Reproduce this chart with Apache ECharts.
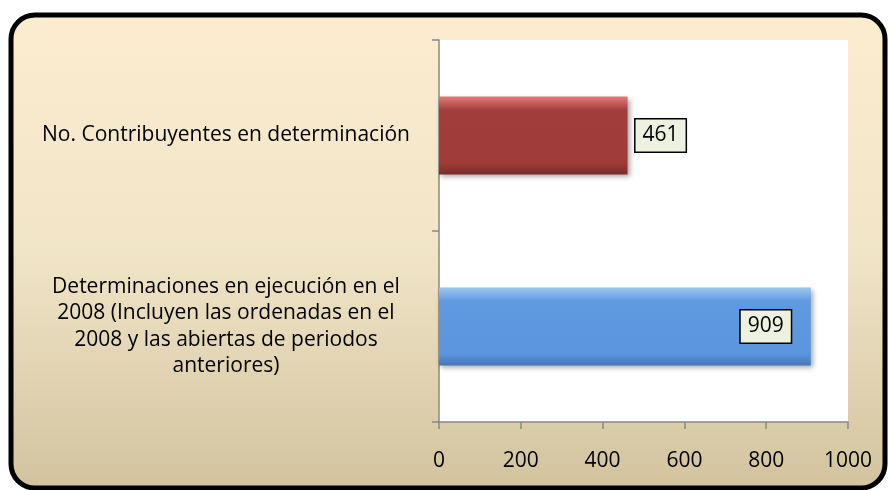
<!DOCTYPE html>
<html>
<head>
<meta charset="utf-8">
<script src="https://cdn.jsdelivr.net/npm/echarts@6/dist/echarts.min.js"></script>
<style>
    html, body { margin: 0; padding: 0; background: #fff; }
    #chart { width: 889px; height: 490px; }
</style>
</head>
<body>
<div id="chart"></div>
<script>
    // categories, bottom to top (as in the picture)
    const categories = [
        'Determinaciones en ejecución en el\n2008 (Incluyen las ordenadas en el\n2008 y las abiertas de periodos\nanteriores)',
        'No. Contribuyentes en determinación'
    ];
    const values = [909, 461];
    const xTicks = [0, 200, 400, 600, 800, 1000];

    const fontFam = '"Open Sans", sans-serif';

    const barColors = [
        new echarts.graphic.LinearGradient(0, 0, 0, 1, [
            { offset: 0, color: '#9cc6f2' },
            { offset: 0.18, color: '#5f9ae0' },
            { offset: 0.85, color: '#5b96de' },
            { offset: 1, color: '#4776b4' }
        ]),
        new echarts.graphic.LinearGradient(0, 0, 0, 1, [
            { offset: 0, color: '#e27a78' },
            { offset: 0.18, color: '#a23e3c' },
            { offset: 0.85, color: '#9f3c3a' },
            { offset: 1, color: '#7a2c2a' }
        ])
    ];

    const chart = echarts.init(document.getElementById('chart'));
    chart.setOption({
        animation: false,
        graphic: [{
            type: 'rect',
            z: -10,
            shape: { x: 11, y: 15, width: 874, height: 473, r: 24 },
            style: {
                fill: new echarts.graphic.LinearGradient(0, 0, 0, 1, [
                    { offset: 0, color: '#fcecd0' },
                    { offset: 0.5, color: '#f1e5c8' },
                    { offset: 1, color: '#d2c39e' }
                ]),
                stroke: '#000',
                lineWidth: 5
            }
        }],
        grid: {
            left: 439,
            right: 41,
            top: 40,
            bottom: 68,
            show: true,
            backgroundColor: '#fff',
            borderWidth: 0
        },
        xAxis: {
            type: 'value',
            min: 0,
            max: 1000,
            interval: 200,
            splitLine: { show: false },
            axisLine: { show: true, lineStyle: { color: '#888', width: 1.5 } },
            axisTick: { show: true, length: 7, lineStyle: { color: '#888', width: 1.5 } },
            axisLabel: {
                margin: 29,
                fontSize: 21,
                color: '#000',
                fontFamily: fontFam,
                formatter: v => xTicks.includes(v) ? String(v) : ''
            }
        },
        yAxis: {
            type: 'category',
            data: categories,
            axisLine: { show: true, lineStyle: { color: '#888', width: 1.5 } },
            axisTick: { show: true, length: 7, lineStyle: { color: '#888', width: 1.5 } },
            axisLabel: {
                margin: 213,
                align: 'center',
                fontSize: 21,
                lineHeight: 26.5,
                color: '#000',
                fontFamily: fontFam
            }
        },
        series: [{
            type: 'bar',
            barWidth: 78,
            data: values.map((v, i) => ({
                value: v,
                itemStyle: { color: barColors[i] },
                label: i === 0
                    ? { position: 'insideRight', distance: 20 }
                    : { position: 'right', distance: 8 }
            })),
            itemStyle: {
                shadowColor: 'rgba(0,0,0,0.35)',
                shadowBlur: 5,
                shadowOffsetX: 2,
                shadowOffsetY: 2
            },
            label: {
                show: true,
                fontSize: 21,
                color: '#000',
                fontFamily: fontFam,
                backgroundColor: '#edf1e0',
                borderColor: '#000',
                borderWidth: 1.5,
                padding: [6, 7, 5, 7]
            }
        }]
    });
</script>
</body>
</html>
